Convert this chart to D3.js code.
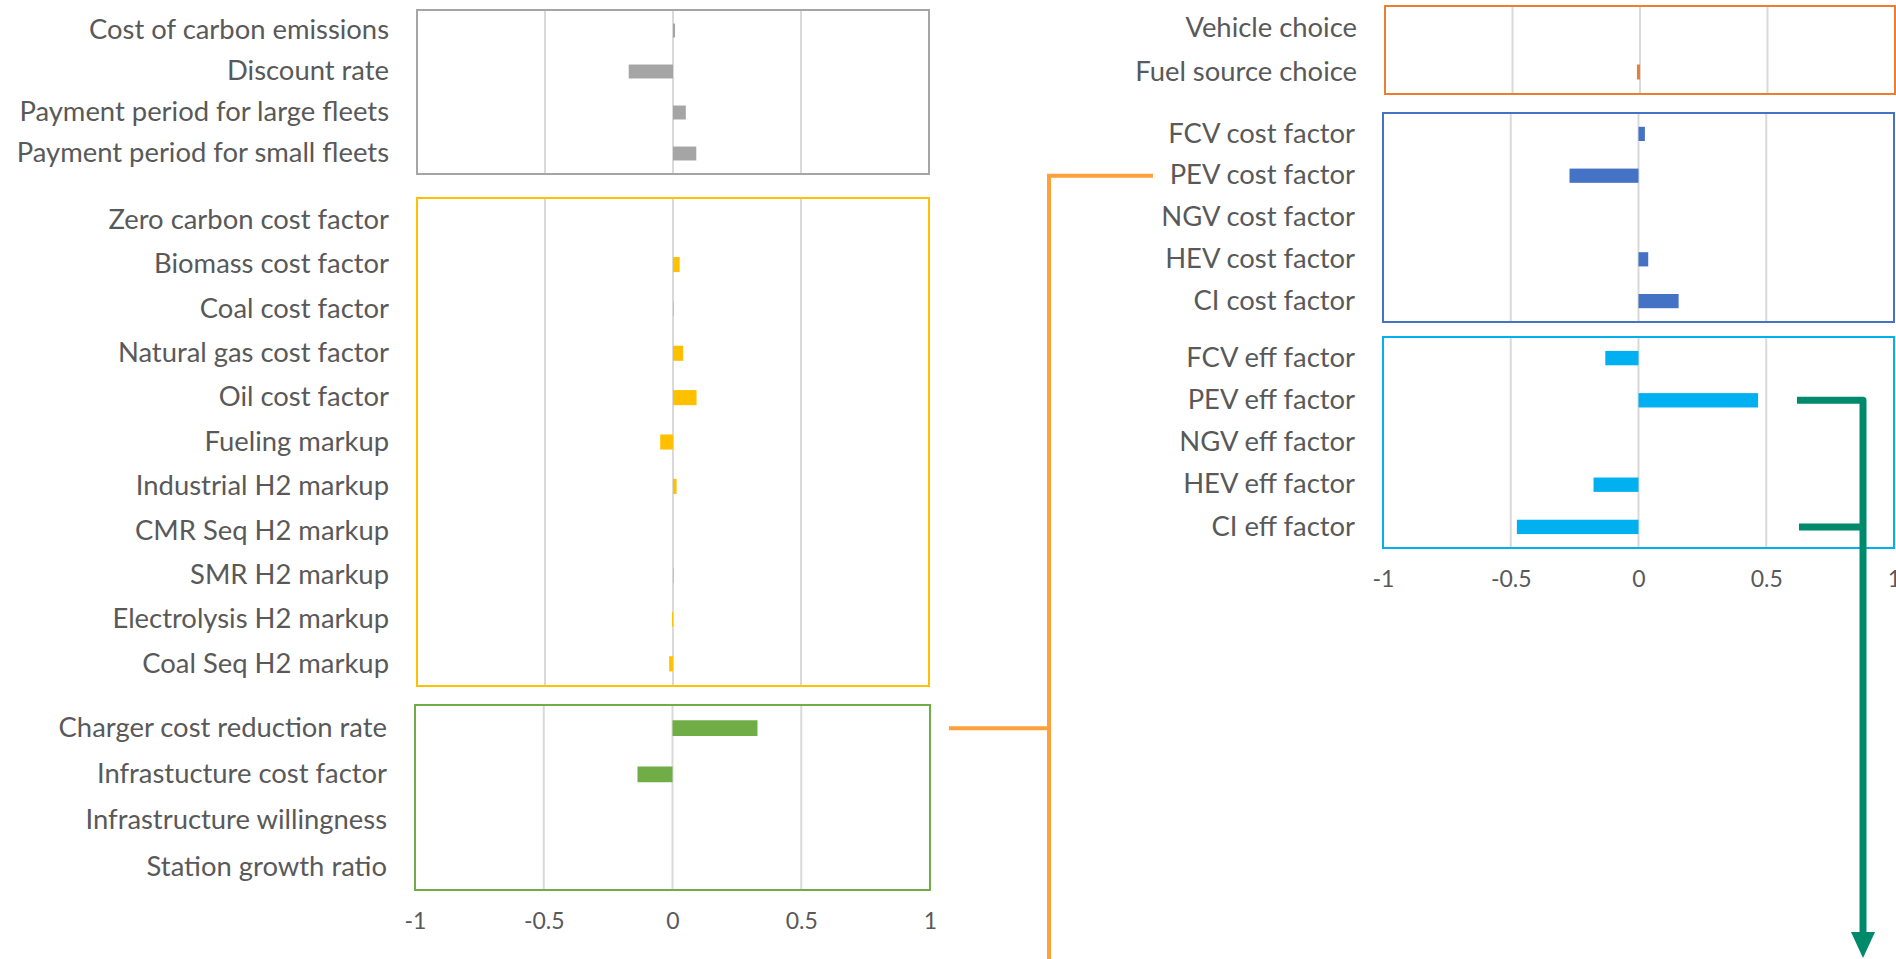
<!DOCTYPE html>
<html>
<head>
<meta charset="utf-8">
<script src="https://cdn.jsdelivr.net/npm/d3@7"></script>
<style>
  body { margin: 0; background: #ffffff; }
  svg { display: block; }
</style>
</head>
<body>
<div id="chart"></div>
<script>
// values (sensitivity, -1 .. 1)
var economicLabels = ["Cost of carbon emissions", "Discount rate", "Payment period for large fleets", "Payment period for small fleets"];
var economicValues = [0.008, -0.173, 0.05, 0.091];

var fuelLabels = ["Zero carbon cost factor", "Biomass cost factor", "Coal cost factor", "Natural gas cost factor", "Oil cost factor",
  "Fueling markup", "Industrial H2 markup", "CMR Seq H2 markup", "SMR H2 markup", "Electrolysis H2 markup", "Coal Seq H2 markup"];
var fuelValues = [0, 0.026, 0.003, 0.04, 0.092, -0.05, 0.014, 0, 0.003, -0.004, -0.015];

var infraLabels = ["Charger cost reduction rate", "Infrastucture cost factor", "Infrastructure willingness", "Station growth ratio"];
var infraValues = [0.33, -0.136, 0, 0];

var choiceLabels = ["Vehicle choice", "Fuel source choice"];
var choiceValues = [0, -0.012];

var vehCostLabels = ["FCV cost factor", "PEV cost factor", "NGV cost factor", "HEV cost factor", "CI cost factor"];
var vehCostValues = [0.025, -0.27, 0, 0.038, 0.157];

var effLabels = ["FCV eff factor", "PEV eff factor", "NGV eff factor", "HEV eff factor", "CI eff factor"];
var effValues = [-0.13, 0.468, 0, -0.176, -0.476];

var tickValues = [-1, -0.5, 0, 0.5, 1];

var width = 1896, height = 959;
var textColor = "#595959";
var fontFamily = "Lato, 'Open Sans', sans-serif";

var svg = d3.select("#chart")
  .append("svg")
    .attr("width", width)
    .attr("height", height);

// one boxed bar panel
function drawPanel(cfg) {
  var x = d3.scaleLinear()
    .domain([-1, 1])
    .range([cfg.x0, cfg.x1]);
  var y = d3.scaleBand()
    .domain(cfg.labels)
    .range([cfg.y0, cfg.y1])
    .paddingInner(0.66)
    .paddingOuter(0.33);

  var g = svg.append("g");

  g.append("g")
    .selectAll("line")
    .data(tickValues)
    .join("line")
      .attr("x1", d => x(d))
      .attr("x2", d => x(d))
      .attr("y1", cfg.y0)
      .attr("y2", cfg.y1)
      .attr("stroke", "#d9d9d9")
      .attr("stroke-width", 2);

  g.append("g")
    .selectAll("rect")
    .data(cfg.values)
    .join("rect")
      .attr("x", d => x(Math.min(0, d)))
      .attr("y", (d, i) => y(cfg.labels[i]))
      .attr("width", d => Math.abs(x(d) - x(0)))
      .attr("height", y.bandwidth())
      .attr("fill", cfg.color);

  // category labels
  g.append("g")
    .attr("transform", "translate(" + cfg.x0 + ",0)")
    .call(d3.axisLeft(y).tickSize(0).tickPadding(28))
    .call(g => g.select(".domain").remove())
    .call(g => g.selectAll("text")
      .attr("fill", textColor)
      .style("font-family", fontFamily)
      .style("font-size", "27.4px"));

  g.append("rect")
    .attr("x", cfg.x0)
    .attr("y", cfg.y0)
    .attr("width", cfg.x1 - cfg.x0)
    .attr("height", cfg.y1 - cfg.y0)
    .attr("fill", "none")
    .attr("stroke", cfg.color)
    .attr("stroke-width", 2);

  if (cfg.tickY) {
    g.append("g")
      .attr("transform", "translate(0," + cfg.tickY + ")")
      .call(d3.axisBottom(x).tickValues(tickValues).tickSize(0).tickPadding(0).tickFormat(d => String(d)))
      .call(g => g.select(".domain").remove())
      .call(g => g.selectAll("text")
        .attr("dy", "0.35em")
        .attr("fill", textColor)
        .style("font-family", fontFamily)
        .style("font-size", "23px"));
  }
  return { x: x, y: y };
}

var economic = drawPanel({ labels: economicLabels, values: economicValues, color: "#a5a5a5", x0: 417, x1: 929, y0: 10, y1: 174 });
var fuel = drawPanel({ labels: fuelLabels, values: fuelValues, color: "#ffc000", x0: 417, x1: 929, y0: 198, y1: 686 });
var infra = drawPanel({ labels: infraLabels, values: infraValues, color: "#70ad47", x0: 415, x1: 930, y0: 705, y1: 890, tickY: 921 });
var choice = drawPanel({ labels: choiceLabels, values: choiceValues, color: "#ed7d31", x0: 1385, x1: 1895, y0: 6, y1: 94 });
var vehCost = drawPanel({ labels: vehCostLabels, values: vehCostValues, color: "#4472c4", x0: 1383, x1: 1894, y0: 113, y1: 322 });
var eff = drawPanel({ labels: effLabels, values: effValues, color: "#00b0f0", x0: 1383, x1: 1894, y0: 337, y1: 548, tickY: 579 });

// orange bracket linking charger cost to PEV cost factor
var mid = y => y.bandwidth() / 2;
var pevCostY = vehCost.y("PEV cost factor") + mid(vehCost.y);
var chargerY = infra.y("Charger cost reduction rate") + mid(infra.y);
var line = d3.line();
svg.append("path")
  .attr("d", line([[1153, pevCostY], [1049, pevCostY], [1049, height]]))
  .attr("fill", "none")
  .attr("stroke", "#ffa03a")
  .attr("stroke-width", 4);
svg.append("path")
  .attr("d", line([[949, chargerY], [1049, chargerY]]))
  .attr("fill", "none")
  .attr("stroke", "#ffa03a")
  .attr("stroke-width", 4);

// teal arrow from PEV / CI efficiency
var pevEffY = eff.y("PEV eff factor") + mid(eff.y);
var ciEffY = eff.y("CI eff factor") + mid(eff.y);
var teal = "#008a6c";
svg.append("path")
  .attr("d", line([[1797, pevEffY], [1863, pevEffY], [1863, height - 24]]))
  .attr("fill", "none")
  .attr("stroke", teal)
  .attr("stroke-width", 7)
  .attr("stroke-linejoin", "round");
svg.append("path")
  .attr("d", line([[1799, ciEffY], [1863, ciEffY]]))
  .attr("fill", "none")
  .attr("stroke", teal)
  .attr("stroke-width", 7);
svg.append("path")
  .attr("d", line([[1851, height - 27], [1875, height - 27], [1863, height - 1]]) + "Z")
  .attr("fill", teal);
</script>
</body>
</html>
